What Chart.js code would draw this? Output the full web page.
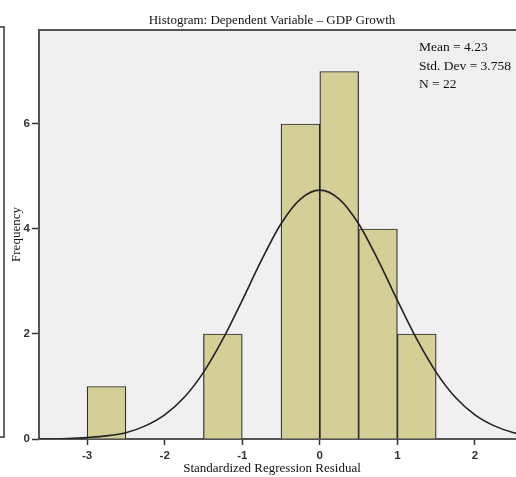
<!DOCTYPE html>
<html>
<head>
<meta charset="utf-8">
<script src="https://cdn.jsdelivr.net/npm/chart.js@4/dist/chart.umd.min.js"></script>
<style>
  html, body { margin: 0; padding: 0; background: #fff; }
  #wrap { position: relative; width: 516px; height: 477px; overflow: hidden; }
  #edge { position: absolute; left: -11px; top: 26px; width: 12px; height: 408px; border: 2px solid #666; }
  canvas { position: absolute; left: 0; top: 0; }
</style>
</head>
<body>
<div id="wrap">
  <div id="edge"></div>
  <canvas id="chartContainer" width="544" height="477"></canvas>
</div>
<script>
// histogram bins (width 0.5), centre of each bin
const binCenters = [-2.75, -1.25, -0.25, 0.25, 0.75, 1.25]
const frequencies = [1, 2, 6, 7, 4, 2]

// normal curve
const curveX = [-3.75, -3.5, -3.25, -3.0, -2.75, -2.5, -2.25, -2.0, -1.75, -1.5, -1.25, -1.0, -0.75, -0.5, -0.25,
                0, 0.25, 0.5, 0.75, 1.0, 1.25, 1.5, 1.75, 2.0, 2.25, 2.5, 2.75, 3.0]
const curveY = [0.00, 0.00, 0.01, 0.03, 0.06, 0.12, 0.25, 0.46, 0.79, 1.27, 1.90, 2.64, 3.41, 4.10, 4.57,
                4.74, 4.57, 4.10, 3.41, 2.64, 1.90, 1.27, 0.79, 0.46, 0.25, 0.12, 0.06, 0.03]

const xTicks = [-3, -2, -1, 0, 1, 2]
const yTicks = [0, 2, 4, 6]
const statsLines = ['Mean = 4.23', 'Std. Dev = 3.758', 'N = 22']

var barData = []
for (var i = 0; i < binCenters.length; i++) {
  barData.push({x: binCenters[i], y: frequencies[i]})
}
var curveData = []
for (var i = 0; i < curveX.length; i++) {
  curveData.push({x: curveX[i], y: curveY[i]})
}

// grey plot area with dark frame
const plotFrame = {
  id: 'plotFrame',
  beforeDatasetsDraw(chart) {
    const ctx = chart.ctx, a = chart.chartArea
    ctx.save()
    ctx.fillStyle = '#f0f0f0'
    ctx.fillRect(a.left, a.top, a.right - a.left, a.bottom - a.top)
    ctx.strokeStyle = '#555'
    ctx.lineWidth = 2
    ctx.strokeRect(a.left, a.top, a.right - a.left, a.bottom - a.top)
    ctx.restore()
  }
}

// Mean / Std. Dev / N box
const statsText = {
  id: 'statsText',
  afterDraw(chart) {
    const ctx = chart.ctx
    ctx.save()
    ctx.fillStyle = '#111'
    ctx.font = '13.5px "Liberation Serif"'
    ctx.textBaseline = 'alphabetic'
    for (var i = 0; i < statsLines.length; i++) {
      ctx.fillText(statsLines[i], 419, 51 + i * 18.5)
    }
    ctx.restore()
  }
}

const tickFont = {family: '"Liberation Sans"', size: 11.5, weight: 'bold'}
const serifFont = {family: '"Liberation Serif"', size: 13, weight: 'normal', lineHeight: '14px'}

var chart = new Chart(document.getElementById('chartContainer'), {
  type: 'bar',
  data: {
    datasets: [{
      type: 'bar',
      data: barData,
      backgroundColor: '#d3cf97',
      borderColor: '#2a2a2a',
      borderWidth: 1.2,
      barPercentage: 1,
      categoryPercentage: 1,
      order: 1
    },
    {
      type: 'line',
      data: curveData,
      borderColor: '#222',
      borderWidth: 1.6,
      pointRadius: 0,
      fill: false,
      cubicInterpolationMode: 'monotone',
      order: 0
    }]
  },
  options: {
    responsive: false,
    animation: false,
    devicePixelRatio: 1,
    layout: {padding: 0},
    plugins: {
      legend: {display: false},
      tooltip: {enabled: false},
      title: {
        display: true,
        text: 'Histogram: Dependent Variable \u2013 GDP Growth',
        color: '#111',
        font: serifFont,
        padding: {top: 14, bottom: 2}
      },
      subtitle: {
        display: true,
        position: 'bottom',
        text: 'Standardized Regression Residual',
        color: '#111',
        font: serifFont,
        padding: {top: 1, bottom: 1}
      }
    },
    scales: {
      x: {
        type: 'linear',
        offset: false,
        min: -3.62,
        max: 2.89,
        afterFit(scale) { scale.height = 22 },
        afterBuildTicks(scale) { scale.ticks = xTicks.map(v => ({value: v})) },
        ticks: {color: '#333', font: tickFont, padding: 4, maxRotation: 0},
        grid: {offset: false, drawOnChartArea: false, drawTicks: true, tickLength: 6, tickColor: '#333', tickWidth: 1.5},
        border: {display: false}
      },
      y: {
        min: 0,
        max: 7.79,
        afterFit(scale) { scale.width = 39 },
        afterBuildTicks(scale) { scale.ticks = yTicks.map(v => ({value: v})) },
        ticks: {color: '#333', font: tickFont, padding: 2},
        grid: {drawOnChartArea: false, drawTicks: true, tickLength: 7, tickColor: '#333', tickWidth: 1.5},
        border: {display: false},
        title: {
          display: true,
          text: 'Frequency',
          color: '#111',
          font: serifFont,
          padding: {top: 10, bottom: 0}
        }
      }
    }
  },
  plugins: [plotFrame, statsText]
})
</script>
</body>
</html>
